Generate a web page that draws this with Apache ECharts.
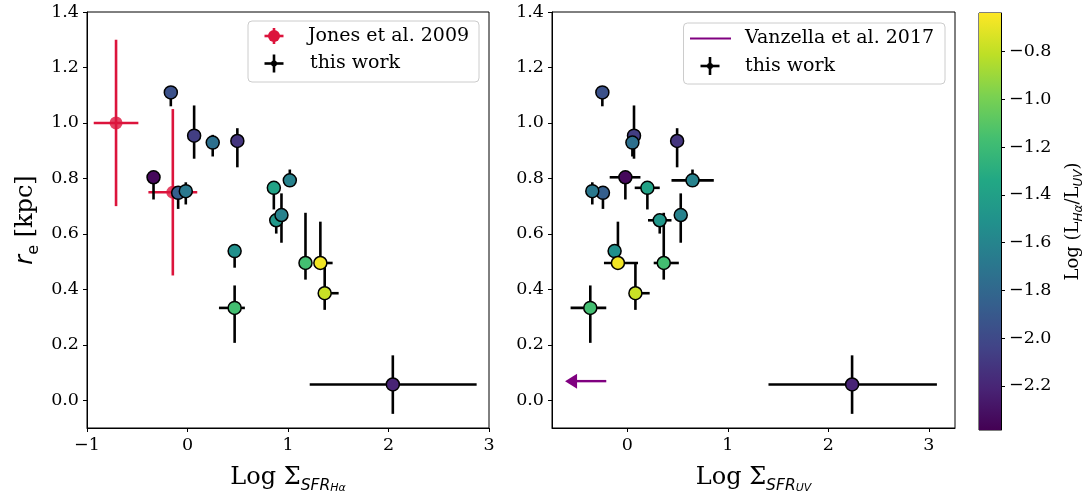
<!DOCTYPE html>
<html><head><meta charset="utf-8">
<script src="https://cdn.jsdelivr.net/npm/echarts@6/dist/echarts.min.js"></script>
<style>html,body{margin:0;padding:0;background:#fff}#c{width:1087px;height:500px}</style>
</head><body><div id="c"></div>
<script>
// ---- data: this work ----
const re_kpc      = [1.110, 0.954, 0.929, 0.935, 0.804, 0.748, 0.754, 0.766, 0.793, 0.649, 0.668, 0.538, 0.495, 0.495, 0.386, 0.333, 0.057];
const re_err_lo   = [0.050, 0.083, 0.050, 0.095, 0.080, 0.058, 0.048, 0.078, 0.020, 0.048, 0.100, 0.060, 0.060, 0.010, 0.060, 0.126, 0.106];
const re_err_hi   = [0.020, 0.109, 0.028, 0.046, 0.010, 0.010, 0.032, 0.010, 0.039, 0.010, 0.078, 0.010, 0.181, 0.149, 0.109, 0.081, 0.105];
const logSfrHa        = [-0.166, 0.066, 0.251, 0.496, -0.338, -0.093, -0.017, 0.859, 1.018, 0.883, 0.935, 0.469, 1.174, 1.322, 1.365, 0.469, 2.043];
const logSfrHa_err_lo = [0, 0, 0, 0, 0, 0, 0, 0, 0, 0, 0, 0, 0, 0.060, 0.050, 0.156, 0.827];
const logSfrHa_err_hi = [0, 0, 0, 0, 0, 0, 0, 0, 0, 0, 0, 0, 0, 0.122, 0.139, 0.102, 0.834];
const logSfrUV        = [-0.249, 0.066, 0.050, 0.495, -0.020, -0.243, -0.349, 0.199, 0.648, 0.322, 0.531, -0.127, 0.362, -0.094, 0.080, -0.369, 2.236];
const logSfrUV_err_lo = [0, 0, 0, 0, 0.156, 0, 0, 0.126, 0.209, 0.117, 0, 0, 0.100, 0.139, 0.050, 0.196, 0.832];
const logSfrUV_err_hi = [0, 0, 0, 0, 0.150, 0, 0, 0.123, 0.212, 0.117, 0, 0, 0.150, 0.200, 0.142, 0.159, 0.844];
const logLhaLuv   = [-1.95, -2.07, -1.74, -2.12, -2.35, -1.86, -1.69, -1.38, -1.62, -1.47, -1.62, -1.52, -1.17, -0.67, -0.78, -1.17, -2.21];
// ---- Jones et al. 2009 ----
const jonesX    = [-0.711, -0.146];
const jonesXerr = [0.222, 0.243];
const jonesY    = [1.00, 0.75];
const jonesYerr = [0.30, 0.30];
// ---- Vanzella et al. 2017 (upper limit arrow) ----
const vanzStartX = [-0.21];
const vanzTipX   = [-0.62];
const vanzY      = [0.069];
// ---- ticks / ranges ----
const xTicksLeft  = [-1, 0, 1, 2, 3];
const xTicksRight = [0, 1, 2, 3];
const yTicks      = [0, 0.2, 0.4, 0.6, 0.8, 1.0, 1.2, 1.4];
const cbTicks     = [-2.2, -2.0, -1.8, -1.6, -1.4, -1.2, -1.0, -0.8];
const cbMin = -2.385, cbMax = -0.639;
const viridis = ['#440154','#482475','#414487','#355f8d','#2a788e','#21918c','#22a884','#44bf70','#7ad151','#bddf26','#fde725'];

const SERIF = 'DejaVu Serif';
const SANS = 'DejaVu Sans';
const minus = s => String(s).replace('-', '\u2212');

function errRows(xs, xlo, xhi) {
  return xs.map((x, i) => [x, re_kpc[i], xlo[i], xhi[i], re_err_lo[i], re_err_hi[i]]);
}
function errRender(color) {
  return function (params, api) {
    const x = api.value(0), y = api.value(1);
    const a = api.coord([x - api.value(2), y]), b = api.coord([x + api.value(3), y]);
    const c = api.coord([x, y - api.value(4)]), d = api.coord([x, y + api.value(5)]);
    const st = { stroke: color, lineWidth: 2.6 };
    return { type: 'group', children: [
      { type: 'line', shape: { x1: a[0], y1: a[1], x2: b[0], y2: b[1] }, style: st },
      { type: 'line', shape: { x1: c[0], y1: c[1], x2: d[0], y2: d[1] }, style: st }
    ]};
  };
}

const tickLabel = { fontFamily: SERIF, fontSize: 17.5, color: '#000' };
function xAxisCfg(gi, min, max, ticks, name) {
  return {
    type: 'value', gridIndex: gi, min: min, max: max,
    axisLine: { show: true, onZero: false, lineStyle: { color: '#000', width: 1 } },
    axisTick: { show: true, inside: false, length: 4, customValues: ticks, lineStyle: { color: '#000' } },
    axisLabel: Object.assign({ customValues: ticks, margin: 8, formatter: v => minus(Math.round(v)) }, tickLabel),
    splitLine: { show: false },
    name: name, nameLocation: 'middle', nameGap: 34,
    nameTextStyle: {
      rich: {
        n: { fontFamily: SERIF, fontSize: 24, lineHeight: 32, color: '#000' },
        s: { fontFamily: SANS, fontStyle: 'italic', fontSize: 15.5, lineHeight: 20, verticalAlign: 'bottom', color: '#000' },
        ss: { fontFamily: SANS, fontStyle: 'italic', fontSize: 11, lineHeight: 11, verticalAlign: 'bottom', color: '#000' }
      }
    }
  };
}
function yAxisCfg(gi, name) {
  const cfg = {
    type: 'value', gridIndex: gi, min: -0.1, max: 1.4,
    axisLine: { show: true, onZero: false, lineStyle: { color: '#000', width: 1 } },
    axisTick: { show: true, inside: false, length: 4, customValues: yTicks, lineStyle: { color: '#000' } },
    axisLabel: Object.assign({ customValues: yTicks, margin: 8, formatter: v => minus(v.toFixed(1)) }, tickLabel),
    splitLine: { show: false }
  };
  if (name) {
    Object.assign(cfg, {
      name: name, nameLocation: 'middle', nameGap: 45,
      nameTextStyle: { rich: {
        i: { fontFamily: SANS, fontStyle: 'italic', fontSize: 24, lineHeight: 32, color: '#000' },
        s: { fontFamily: SANS, fontSize: 16, lineHeight: 20, verticalAlign: 'bottom', color: '#000' },
        n: { fontFamily: SERIF, fontSize: 24, lineHeight: 32, color: '#000' }
      }}
    });
  }
  return cfg;
}

const chart = echarts.init(document.getElementById('c'), null, { renderer: 'canvas' });

const legendGraphics = [
  // left legend
  { type: 'rect', shape: { x: 248, y: 21, width: 231, height: 61, r: 4 }, style: { fill: 'rgba(255,255,255,0.8)', stroke: '#cccccc', lineWidth: 1 }, z: 100 },
  { type: 'line', shape: { x1: 264.5, y1: 36, x2: 283.5, y2: 36 }, style: { stroke: '#dc143c', lineWidth: 2.6 }, z: 101 },
  { type: 'line', shape: { x1: 274, y1: 28, x2: 274, y2: 44 }, style: { stroke: '#dc143c', lineWidth: 2.6 }, z: 101 },
  { type: 'circle', shape: { cx: 274, cy: 36, r: 6 }, style: { fill: '#dc143c' }, z: 101 },
  { type: 'text', x: 308, y: 36, style: { text: 'Jones et al. 2009', fontFamily: SERIF, fontSize: 19, fill: '#000', verticalAlign: 'middle' }, z: 101 },
  { type: 'line', shape: { x1: 264.5, y1: 63.5, x2: 283.5, y2: 63.5 }, style: { stroke: '#000', lineWidth: 2.6 }, z: 101 },
  { type: 'line', shape: { x1: 274, y1: 54.5, x2: 274, y2: 72.5 }, style: { stroke: '#000', lineWidth: 2.6 }, z: 101 },
  { type: 'circle', shape: { cx: 274, cy: 63.5, r: 3 }, style: { fill: '#000' }, z: 101 },
  { type: 'text', x: 310, y: 63.5, style: { text: 'this work', fontFamily: SERIF, fontSize: 19, fill: '#000', verticalAlign: 'middle' }, z: 101 },
  // right legend
  { type: 'rect', shape: { x: 683.5, y: 23, width: 261.5, height: 61, r: 4 }, style: { fill: 'rgba(255,255,255,0.8)', stroke: '#cccccc', lineWidth: 1 }, z: 100 },
  { type: 'line', shape: { x1: 690, y1: 38.5, x2: 731, y2: 38.5 }, style: { stroke: '#800080', lineWidth: 2.2 }, z: 101 },
  { type: 'text', x: 745, y: 38.5, style: { text: 'Vanzella et al. 2017', fontFamily: SERIF, fontSize: 19, fill: '#000', verticalAlign: 'middle' }, z: 101 },
  { type: 'line', shape: { x1: 700.5, y1: 66, x2: 719.5, y2: 66 }, style: { stroke: '#000', lineWidth: 2.6 }, z: 101 },
  { type: 'line', shape: { x1: 710, y1: 57, x2: 710, y2: 75 }, style: { stroke: '#000', lineWidth: 2.6 }, z: 101 },
  { type: 'circle', shape: { cx: 710, cy: 66, r: 3 }, style: { fill: '#000' }, z: 101 },
  { type: 'text', x: 745, y: 66, style: { text: 'this work', fontFamily: SERIF, fontSize: 19, fill: '#000', verticalAlign: 'middle' }, z: 101 }
];

const option = {
  animation: false,
  backgroundColor: '#fff',
  grid: [
    { left: 87, right: 1087 - 489, top: 12, bottom: 500 - 428, show: true, borderColor: '#000', borderWidth: 1, containLabel: false },
    { left: 552, right: 1087 - 955, top: 12, bottom: 500 - 428, show: true, borderColor: '#000', borderWidth: 1, containLabel: false },
    { left: 979, right: 1087 - 1001, top: 13, bottom: 500 - 430, show: true, borderColor: '#000', borderWidth: 1, containLabel: false }
  ],
  xAxis: [
    xAxisCfg(0, -1, 3, xTicksLeft, '{n|Log \u03A3}{s|SFR}{ss|H\u03B1}'),
    xAxisCfg(1, -0.75, 3.26, xTicksRight, '{n|Log \u03A3}{s|SFR}{ss|UV}'),
    { type: 'value', gridIndex: 2, min: 0, max: 1, show: false }
  ],
  yAxis: [
    yAxisCfg(0, '{i|r}{s|e}{n| [kpc]}'),
    yAxisCfg(1, null),
    {
      type: 'value', gridIndex: 2, min: cbMin, max: cbMax, position: 'right',
      axisLine: { show: true, onZero: false, lineStyle: { color: '#000', width: 1 } },
      axisTick: { show: true, inside: false, length: 4, customValues: cbTicks, lineStyle: { color: '#000' } },
      axisLabel: Object.assign({ customValues: cbTicks, margin: 8, formatter: v => minus(v.toFixed(1)) }, tickLabel),
      splitLine: { show: false },
      name: '{n|Log (L}{s|H\u03B1}{n|/L}{s|UV}{n|)}', nameLocation: 'middle', nameGap: 60, nameRotate: 90,
      nameTextStyle: { rich: {
        n: { fontFamily: SERIF, fontSize: 18, lineHeight: 24, color: '#000' },
        s: { fontFamily: SANS, fontStyle: 'italic', fontSize: 12, lineHeight: 15, verticalAlign: 'bottom', color: '#000' }
      }}
    }
  ],
  visualMap: {
    type: 'continuous', show: false, min: cbMin, max: cbMax, dimension: 2,
    seriesIndex: [2, 4], inRange: { color: viridis }
  },
  series: [
    // 0: Jones error bars
    { type: 'custom', xAxisIndex: 0, yAxisIndex: 0, z: 2,
      data: jonesX.map((x, i) => [x, jonesY[i], jonesXerr[i], jonesXerr[i], jonesYerr[i], jonesYerr[i]]),
      renderItem: errRender('#dc143c'), encode: { x: 0, y: 1 } },
    // 1: this work error bars (left)
    { type: 'custom', xAxisIndex: 0, yAxisIndex: 0, z: 3,
      data: errRows(logSfrHa, logSfrHa_err_lo, logSfrHa_err_hi),
      renderItem: errRender('#000'), encode: { x: 0, y: 1 } },
    // 2: this work points (left)
    { type: 'scatter', xAxisIndex: 0, yAxisIndex: 0, z: 5, symbolSize: 13,
      itemStyle: { borderColor: '#000', borderWidth: 1.5, opacity: 1 },
      data: logSfrHa.map((x, i) => [x, re_kpc[i], logLhaLuv[i]]) },
    // 3: this work error bars (right)
    { type: 'custom', xAxisIndex: 1, yAxisIndex: 1, z: 3,
      data: errRows(logSfrUV, logSfrUV_err_lo, logSfrUV_err_hi),
      renderItem: errRender('#000'), encode: { x: 0, y: 1 } },
    // 4: this work points (right)
    { type: 'scatter', xAxisIndex: 1, yAxisIndex: 1, z: 5, symbolSize: 13,
      itemStyle: { borderColor: '#000', borderWidth: 1.5, opacity: 1 },
      data: logSfrUV.map((x, i) => [x, re_kpc[i], logLhaLuv[i]]) },
    // 5: Jones points
    { type: 'scatter', xAxisIndex: 0, yAxisIndex: 0, z: 2, symbolSize: 13,
      itemStyle: { color: '#dc143c' },
      data: jonesX.map((x, i) => [x, jonesY[i]]) },
    // 6: Vanzella arrow
    { type: 'custom', xAxisIndex: 1, yAxisIndex: 1, z: 4,
      data: vanzStartX.map((x, i) => [x, vanzY[i], vanzTipX[i]]),
      encode: { x: 0, y: 1 },
      renderItem: function (params, api) {
        const s = api.coord([api.value(0), api.value(1)]);
        const t = api.coord([api.value(2), api.value(1)]);
        const hl = 12, hw = 7.5;
        return { type: 'group', children: [
          { type: 'line', shape: { x1: s[0], y1: s[1], x2: t[0] + hl - 1, y2: t[1] }, style: { stroke: '#800080', lineWidth: 2.4 } },
          { type: 'polygon', shape: { points: [[t[0], t[1]], [t[0] + hl, t[1] - hw], [t[0] + hl, t[1] + hw]] }, style: { fill: '#800080' } }
        ]};
      } },
    // 7: colorbar gradient
    { type: 'custom', xAxisIndex: 2, yAxisIndex: 2, z: 1,
      data: [[0, cbMin]], encode: { x: 0, y: 1 },
      renderItem: function (params, api) {
        const p0 = api.coord([0, cbMin]), p1 = api.coord([1, cbMax]);
        return { type: 'rect', shape: { x: p0[0], y: p1[1], width: p1[0] - p0[0], height: p0[1] - p1[1] },
          style: { fill: new echarts.graphic.LinearGradient(0, 1, 0, 0,
            viridis.map((c, i) => ({ offset: i / (viridis.length - 1), color: c }))) } };
      } }
  ],
  graphic: legendGraphics
};
chart.setOption(option);
</script>
</body></html>
